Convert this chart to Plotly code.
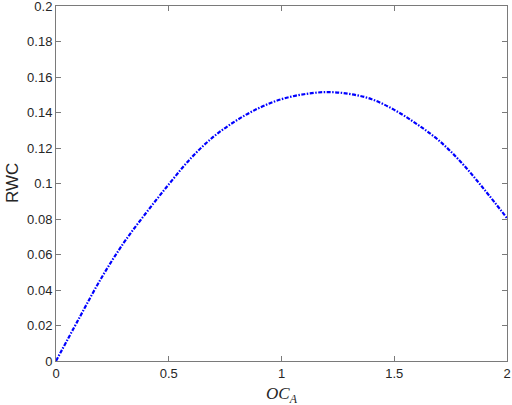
import plotly.graph_objects as go

# values
oc_a = [0.0, 0.1, 0.2, 0.3, 0.4, 0.5, 0.6, 0.7, 0.8, 0.9, 1.0,
        1.1, 1.2, 1.3, 1.4, 1.5, 1.6, 1.7, 1.8, 1.9, 2.0]
rwc = [0.0, 0.0235, 0.0465, 0.0665, 0.0835, 0.0995, 0.1145, 0.1265, 0.1355, 0.1425, 0.1475,
       0.1503, 0.1515, 0.1505, 0.1475, 0.1415, 0.1335, 0.1240, 0.1115, 0.0965, 0.0805]

x_ticks = [0, 0.5, 1, 1.5, 2]
x_labels = ["0", "0.5", "1", "1.5", "2"]
y_ticks = [0, 0.02, 0.04, 0.06, 0.08, 0.1, 0.12, 0.14, 0.16, 0.18, 0.2]
y_labels = ["0", "0.02", "0.04", "0.06", "0.08", "0.1", "0.12", "0.14", "0.16", "0.18", "0.2"]

axis_col = "#7a7a7a"
txt_col = "#262626"
sans = "Arial, Liberation Sans"

fig = go.Figure()
fig.add_trace(go.Scatter(
    x=oc_a, y=rwc, mode="lines",
    line=dict(color="#0000ff", width=2.2, dash="4px,1.5px,1.5px,1.5px", shape="spline"),
    showlegend=False,
))

common = dict(
    showline=True, mirror="ticks", linecolor=axis_col, linewidth=1,
    ticks="inside", ticklen=5, tickcolor=axis_col,
    showgrid=False, zeroline=False, automargin=False,
    ticklabeloverflow="allow",
    tickfont=dict(family=sans, size=13, color=txt_col),
)
fig.update_xaxes(range=[0, 2], tickvals=x_ticks, ticktext=x_labels, **common)
fig.update_yaxes(range=[0, 0.2], tickvals=y_ticks, ticktext=y_labels, **common)

# axis titles as annotations so they sit where the reference has them
fig.add_annotation(
    text="<i>OC</i><sub><i>A</i></sub>", xref="paper", yref="paper",
    x=0.5, y=0, yshift=-21, xanchor="center", yanchor="top", showarrow=False,
    font=dict(family="Liberation Serif, DejaVu Serif", size=17, color=txt_col),
)
fig.add_annotation(
    text="RWC", xref="paper", yref="paper", textangle=-90,
    x=0, y=0.5, xshift=-32, xanchor="right", yanchor="middle", showarrow=False,
    font=dict(family=sans, size=17, color=txt_col),
)

fig.update_layout(
    width=512, height=405,
    margin=dict(l=56, r=5, t=6, b=44),
    plot_bgcolor="white", paper_bgcolor="white",
)

# drop the page's default body margin so the figure sits at the window's corner
fig.write_html("out.html", config={"displayModeBar": False},
               post_script="document.body.style.margin='0';")
